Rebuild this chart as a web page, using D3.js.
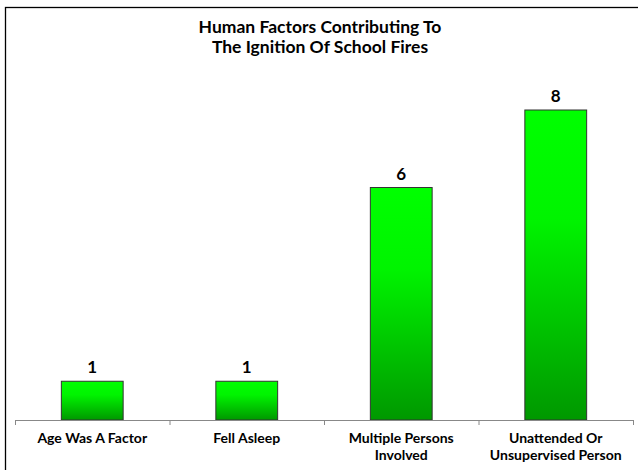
<!DOCTYPE html>
<html><head><meta charset="utf-8">
<script src="https://cdn.jsdelivr.net/npm/d3@7"></script>
<style>html,body{margin:0;padding:0;background:#fff;}svg{display:block;}</style>
</head><body>
<script>
const categories = [["Age Was A Factor"], ["Fell Asleep"], ["Multiple Persons", "Involved"], ["Unattended Or", "Unsupervised Person"]];
const values = [1, 1, 6, 8];
const titleLines = ["Human Factors Contributing To", "The Ignition Of School Fires"];

const W = 638, H = 470;
const svg = d3.select("body").append("svg").attr("width", W).attr("height", H);
const font = "Lato, 'Open Sans', sans-serif";

// outer frame (extends beyond the right/bottom edges)
svg.append("rect").attr("x", 5.5).attr("y", 7.5).attr("width", W + 10).attr("height", H + 10)
  .attr("fill", "none").attr("stroke", "#000").attr("stroke-width", 1.3);

const defs = svg.append("defs");
const g = defs.append("linearGradient").attr("id", "barGrad").attr("x1", 0).attr("y1", 0).attr("x2", 0).attr("y2", 1);
g.append("stop").attr("offset", "0%").attr("stop-color", "#00ff00");
g.append("stop").attr("offset", "35%").attr("stop-color", "#00f400");
g.append("stop").attr("offset", "100%").attr("stop-color", "#009800");

const ids = categories.map((c, i) => i);
const x = d3.scaleBand().domain(ids).range([15, 633]).paddingInner(0.6).paddingOuter(0.3);
const y = d3.scaleLinear().domain([0, 10]).range([420, 32.5]);

// bars
svg.selectAll("rect.bar").data(values).enter().append("rect")
  .attr("class", "bar")
  .attr("x", (d, i) => x(i))
  .attr("y", d => y(d))
  .attr("width", x.bandwidth())
  .attr("height", d => y(0) - y(d))
  .attr("fill", "url(#barGrad)")
  .attr("stroke", "#333").attr("stroke-width", 1);

// value labels
svg.selectAll("text.val").data(values).enter().append("text")
  .attr("class", "val")
  .attr("x", (d, i) => x(i) + x.bandwidth() / 2)
  .attr("y", d => y(d) - 8)
  .attr("text-anchor", "middle")
  .attr("font-family", font).attr("font-weight", "bold").attr("font-size", 17)
  .attr("fill", "#000")
  .text(d => d);

// axis
const xs = d3.scaleLinear().domain([0, categories.length]).range([15, 633]);
const axis = d3.axisBottom(xs).tickValues(d3.range(categories.length + 1)).tickSize(5).tickSizeOuter(0).tickFormat("");
const ax = svg.append("g").attr("transform", "translate(0,420)").call(axis);
ax.select(".domain").attr("stroke", "#888");
ax.selectAll(".tick line").attr("stroke", "#888");

// category labels
const lab = svg.selectAll("text.cat").data(categories).enter().append("text")
  .attr("class", "cat")
  .attr("text-anchor", "middle")
  .attr("font-family", font).attr("font-weight", "bold").attr("font-size", 14)
  .attr("fill", "#000");
lab.each(function (lines, i) {
  const t = d3.select(this);
  lines.forEach((l, j) => {
    t.append("tspan").attr("x", x(i) + x.bandwidth() / 2).attr("y", 443 + j * 17).text(l);
  });
});

// title
svg.append("text").attr("text-anchor", "middle")
  .attr("font-family", font).attr("font-weight", "bold").attr("font-size", 17.5).attr("fill", "#000")
  .selectAll("tspan").data(titleLines).enter().append("tspan")
  .attr("x", 320).attr("y", (d, i) => 33 + i * 19.5).text(d => d);
</script>
</body></html>
